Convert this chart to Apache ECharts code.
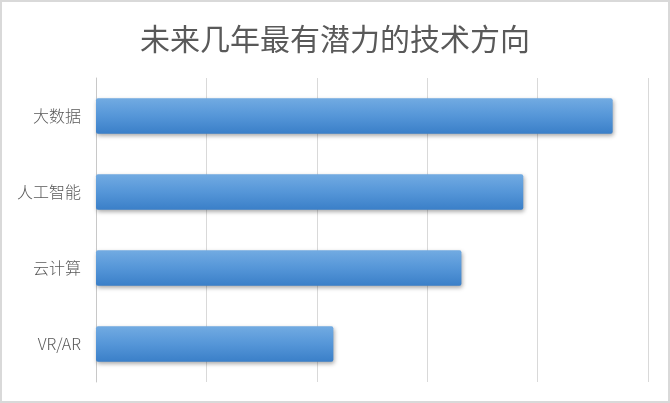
<!DOCTYPE html>
<html>
<head>
<meta charset="utf-8">
<script src="https://cdn.jsdelivr.net/npm/echarts@6/dist/echarts.min.js"></script>
<style>
html, body { margin: 0; padding: 0; background: #fff; }
#chart { width: 666px; height: 399px; border: 2px solid #d9d9d9; }
</style>
</head>
<body>
<div id="chart"></div>
<script>
/*数据*/
var categories = ['VR/AR', '云计算', '人工智能', '大数据'];
var values = [21.5, 33.1, 38.7, 46.8];
var axisMax = 50;
var axisStep = 10;

var chart = echarts.init(document.getElementById('chart'));
var option = {
    animation: false,
    title: {
        text: '未来几年最有潜力的技术方向',
        left: 'center',
        top: 17,
        textStyle: {
            fontFamily: 'Noto Sans CJK SC',
            fontSize: 30,
            fontWeight: 'normal',
            color: '#595959'
        }
    },
    grid: {
        left: 94,
        right: 20,
        top: 76,
        bottom: 19
    },
    xAxis: {
        type: 'value',
        min: 0,
        max: axisMax,
        interval: axisStep,
        axisLabel: { show: false },
        axisLine: { show: false },
        axisTick: { show: false },
        splitLine: { lineStyle: { color: '#d9d9d9', width: 1 } }
    },
    yAxis: {
        type: 'category',
        data: categories,
        axisTick: { show: false },
        axisLine: { lineStyle: { color: '#c8c8c8' } },
        axisLabel: {
            margin: 15,
            fontFamily: 'Noto Sans CJK SC',
            fontSize: 16,
            fontWeight: 300,
            color: '#595959'
        }
    },
    series: [{
        type: 'bar',
        data: values,
        barCategoryGap: '53%',
        itemStyle: {
            borderRadius: 2,
            color: new echarts.graphic.LinearGradient(0, 0, 0, 1, [
                { offset: 0, color: '#72abe2' },
                { offset: 0.5, color: '#5596d8' },
                { offset: 1, color: '#3a7fc8' }
            ]),
            shadowColor: 'rgba(0,0,0,0.35)',
            shadowBlur: 4,
            shadowOffsetX: 1,
            shadowOffsetY: 2
        }
    }]
};
chart.setOption(option);
</script>
</body>
</html>
